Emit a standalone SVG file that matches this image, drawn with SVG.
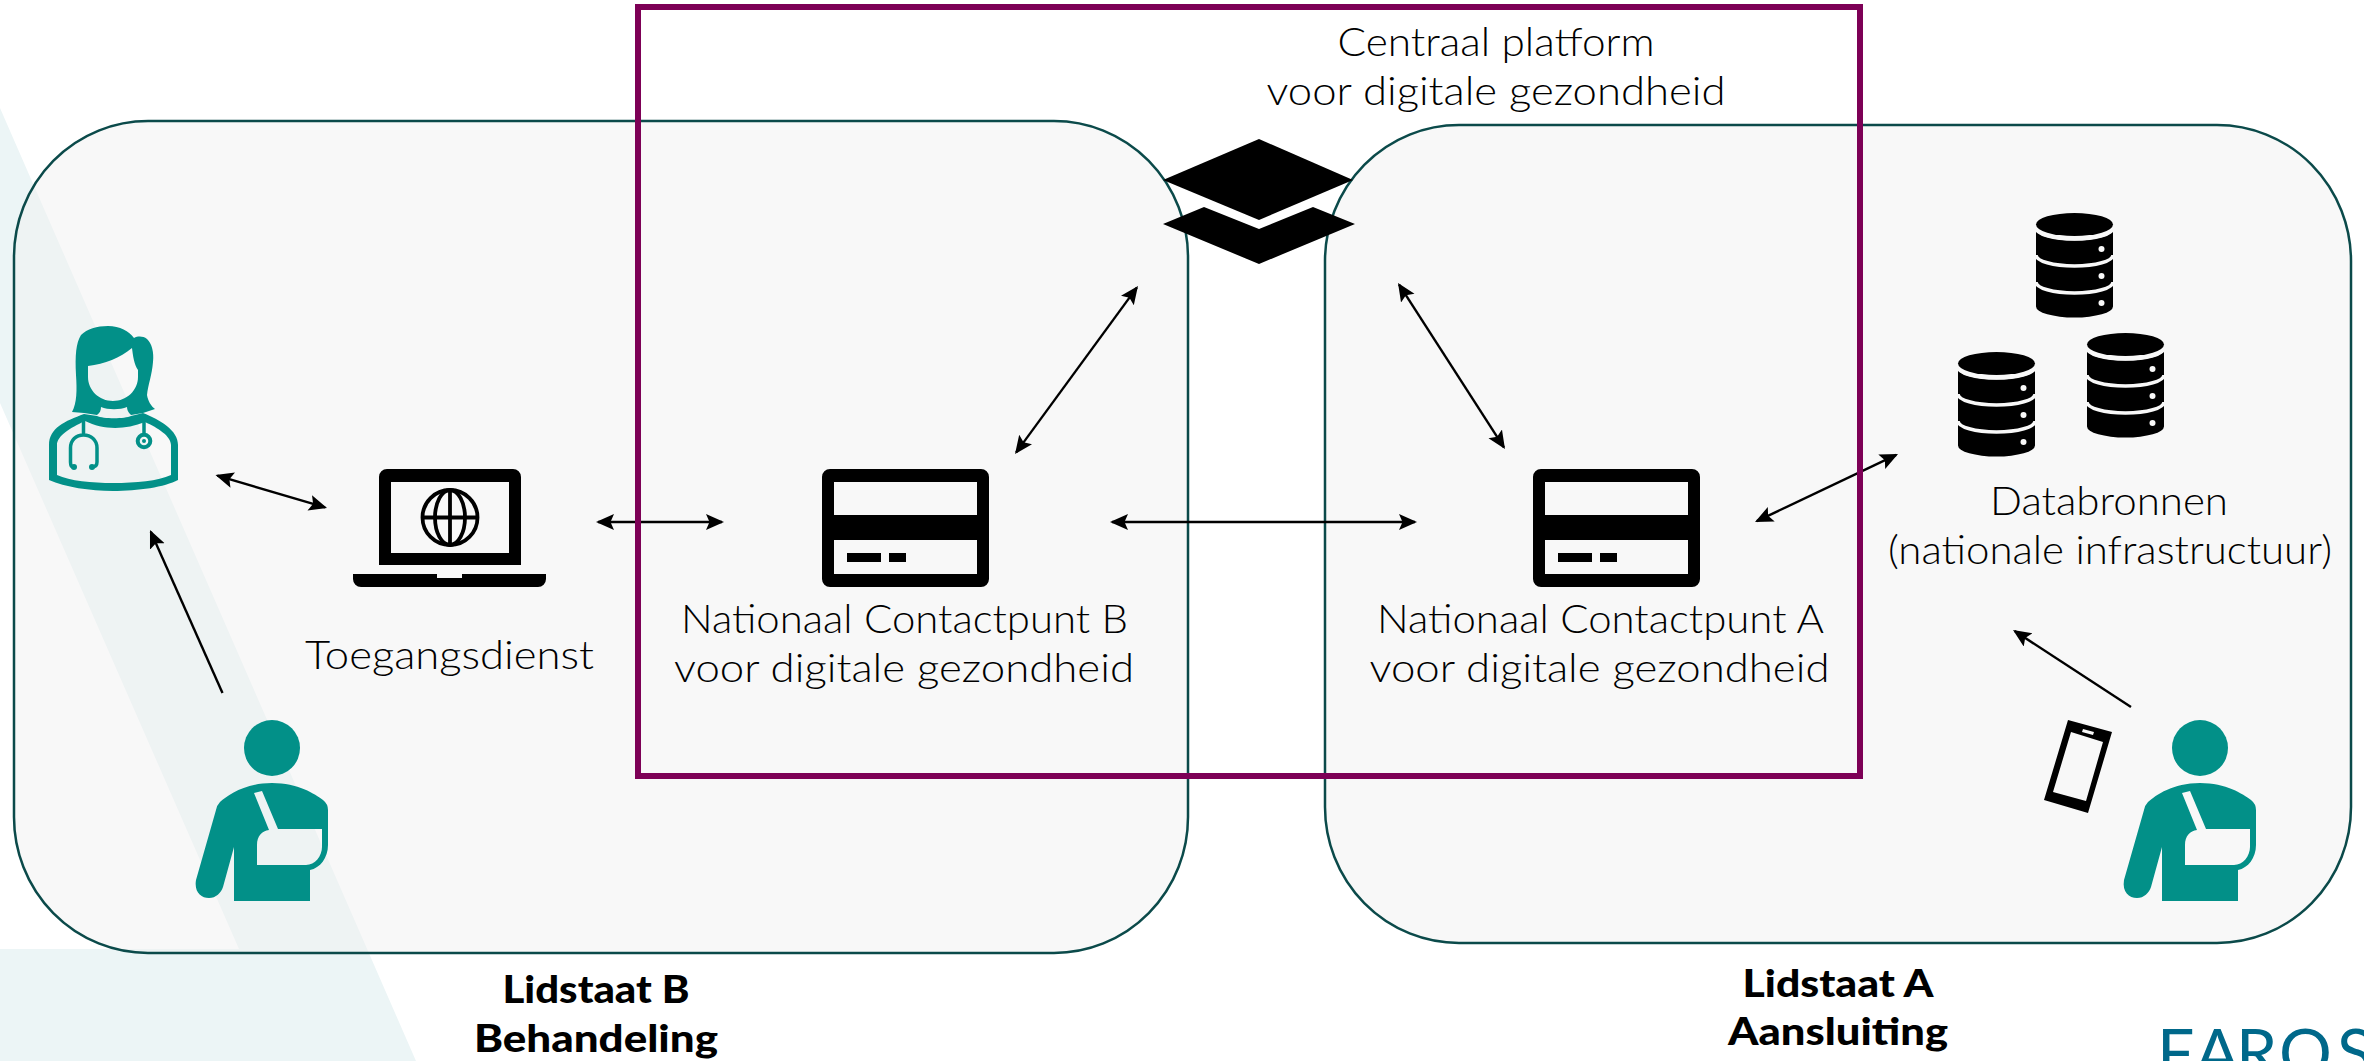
<svg xmlns="http://www.w3.org/2000/svg" width="2364" height="1061" viewBox="0 0 2364 1061">
<style>
.t{font-family:"Lato","Open Sans","Liberation Sans",sans-serif;font-weight:300;font-size:39px;fill:#000;text-anchor:middle}
.b{font-family:"Lato","Open Sans","Liberation Sans",sans-serif;font-weight:900;font-size:38px;fill:#000;text-anchor:middle}
.box{fill:#f0f0f0;fill-opacity:.47;stroke:none}
.edge{fill:none;stroke:#0b4a4a;stroke-width:2.5}
.teal{fill:#029088}
.k{fill:#000}
.c{fill:none;stroke:#000;stroke-width:2.4;marker-end:url(#ah)}
.cc{fill:none;stroke:#000;stroke-width:2.4;marker-start:url(#ah);marker-end:url(#ah)}
</style>
<defs>
<marker id="ah" markerUnits="userSpaceOnUse" markerWidth="20" markerHeight="18" refX="16" refY="8" orient="auto-start-reverse"><path d="M0 0L18 8L0 16L3.500 8Z" fill="#000"/></marker>
<g id="db">
<ellipse cx="0" cy="0" rx="38.5" ry="11.5" class="k"/>
<path d="M-38.5 5V82A38.5 11 0 0 0 38.5 82V5A38.5 11 0 0 1-38.5 5Z" class="k"/>
<path d="M-38.5 3.5A38.5 11 0 0 0 38.5 3.5M-38.5 30.5A38.5 11 0 0 0 38.5 30.5M-38.5 57.5A38.5 11 0 0 0 38.5 57.5" fill="none" stroke="#f8f8f8" stroke-width="3.5"/>
<circle cx="27" cy="24.5" r="3" fill="#f8f8f8"/><circle cx="27" cy="51.5" r="3" fill="#f8f8f8"/><circle cx="27" cy="78.5" r="3" fill="#f8f8f8"/>
</g>
<g id="card">
<path fill-rule="evenodd" d="M830 469H981A8 8 0 0 1 989 477V579A8 8 0 0 1 981 587H830A8 8 0 0 1 822 579V477A8 8 0 0 1 830 469ZM834 482V515H977V482ZM834 540V574H977V540Z" class="k"/>
<rect x="847" y="553" width="34" height="9" class="k"/><rect x="889" y="553" width="17" height="9" class="k"/>
</g>
<g id="patient">
<circle cx="272" cy="748" r="28" class="teal"/>
<path fill-rule="evenodd" class="teal" d="M272 783C245 783 228 795 220 802Q217 805 216 810L196 880C194 892 201 898 209 898C216 898 221 893 223 887L234 847V901H310V870C320 868 328 858 328 845V810Q328 804 323 800C315 794 298 783 272 783ZM254 793L262 791L278 829H322V847C322 856 315 865 306 865H257V845C257 836 262 831 269 830Z"/>
</g>
</defs>

<g id="background"><path d="M0 108L416 1061H0V949H239L0 403Z" fill="#ecf5f6"/></g>

<g id="lidstaat-b">
<rect class="box" x="14" y="121" width="1174" height="832" rx="134" ry="136"/>
<rect class="edge" x="14" y="121" width="1174" height="832" rx="134" ry="136"/>
<text class="b" x="596" y="1003" textLength="187" lengthAdjust="spacingAndGlyphs">Lidstaat B</text>
<text class="b" x="596" y="1052" textLength="244" lengthAdjust="spacingAndGlyphs">Behandeling</text>
</g>
<g id="lidstaat-a">
<rect class="box" x="1325" y="125" width="1026" height="818" rx="134" ry="136"/>
<rect class="edge" x="1325" y="125" width="1026" height="818" rx="134" ry="136"/>
<text class="b" x="1838" y="997" textLength="191" lengthAdjust="spacingAndGlyphs">Lidstaat A</text>
<text class="b" x="1838" y="1045" textLength="220" lengthAdjust="spacingAndGlyphs">Aansluiting</text>
</g>

<g id="connectors">
<path class="cc" d="M217.400 475.600L325.100 507.400"/>
<path class="c" d="M222.500 693L150.800 531.800"/>
<path class="cc" d="M598 522H722"/>
<path class="cc" d="M1112 522H1415"/>
<path class="cc" d="M1016.200 452.400L1136.800 287.600"/>
<path class="cc" d="M1503.900 447.300L1399.100 284.700"/>
<path class="cc" d="M1756.800 521.100L1896.200 454.900"/>
<path class="c" d="M2131 707L2014.700 631.100"/>
</g>

<g id="platform">
<path class="k" d="M1259 139L1353 180L1259 220L1163 180Z"/>
<path class="k" d="M1204 207L1259 229L1313 207L1355 224L1259 264L1163 224Z"/>
<text class="t" x="1496" y="56" textLength="317" lengthAdjust="spacingAndGlyphs">Centraal platform</text>
<text class="t" x="1496" y="105" textLength="459" lengthAdjust="spacingAndGlyphs">voor digitale gezondheid</text>
</g>

<g id="arts">
<path fill-rule="evenodd" class="teal" d="M72 412C77 403 77 390 76 375C75 355 76 343 81 335C87 329 97 326 108 326C120 326 129 331 134 338C138 336 143 336 147 339C152 344 154 352 153 362C152 375 148 385 147 395C148 401 151 406 155 409L143 413L131 415C128 412 127 410 127 407C120 410 108 410 101 407C101 410 100 413 97 415L84 413ZM88 366V377C88 390 99 401 113 401C127 401 138 390 138 377V370C134 364 133 356 132 348C120 358 105 364 88 366Z"/>
<path fill-rule="evenodd" class="teal" d="M84 414C65 421 49 428 49 445V480C65 487 90 491 113 491C138 491 165 487 178 480V445C178 430 160 420 143 413L131 416C125 419 103 419 97 416ZM85 421C70 428 57 436 57 445V475C70 481 92 483 113 483C136 483 158 481 171 475V445C171 436 158 428 145 422C125 430 103 430 85 421Z"/>
<path d="M83.500 421V435M73 467Q70.500 467 70.500 462V448C70.500 440 76 435 83.500 435C91 435 97 440 97 448V462Q97 467 92 467" fill="none" stroke="#029088" stroke-width="3.500"/>
<circle cx="74" cy="467" r="3" class="teal"/><circle cx="92" cy="467" r="3" class="teal"/>
<path d="M144 421V433" stroke="#029088" stroke-width="3.500"/>
<circle cx="144" cy="441" r="6.300" fill="none" stroke="#029088" stroke-width="4"/>
<circle cx="144" cy="441" r="2" class="teal"/>
</g>

<g id="patient-b"><use href="#patient"/></g>

<g id="toegangsdienst">
<path fill-rule="evenodd" class="k" d="M387 469H513A8 8 0 0 1 521 477V565H379V477A8 8 0 0 1 387 469ZM391 482V553H509V482Z"/>
<path class="k" d="M353 574H437V578H462V574H546V579A8 8 0 0 1 538 587H361A8 8 0 0 1 353 579Z"/>
<g fill="none" stroke="#000" stroke-width="3.800"><circle cx="450" cy="517.500" r="27.500"/><ellipse cx="450" cy="517.500" rx="15" ry="27.500"/><path d="M450 490V545M423 517.500H477"/></g>
<text class="t" x="449.500" y="669" textLength="289" lengthAdjust="spacingAndGlyphs">Toegangsdienst</text>
</g>

<g id="ncp-b">
<use href="#card"/>
<text class="t" x="904.500" y="633" textLength="447" lengthAdjust="spacingAndGlyphs">Nationaal Contactpunt B</text>
<text class="t" x="904" y="682" textLength="460" lengthAdjust="spacingAndGlyphs">voor digitale gezondheid</text>
</g>

<g id="ncp-a">
<use href="#card" x="711"/>
<text class="t" x="1600.500" y="633" textLength="447" lengthAdjust="spacingAndGlyphs">Nationaal Contactpunt A</text>
<text class="t" x="1599.500" y="682" textLength="460" lengthAdjust="spacingAndGlyphs">voor digitale gezondheid</text>
</g>

<g id="databronnen">
<use href="#db" x="2074.500" y="224.500"/>
<use href="#db" x="1996.500" y="363.500"/>
<use href="#db" x="2125.500" y="344.500"/>
<text class="t" x="2109" y="515" textLength="238" lengthAdjust="spacingAndGlyphs">Databronnen</text>
<text class="t" x="2110" y="564" textLength="444" lengthAdjust="spacingAndGlyphs">(nationale infrastructuur)</text>
</g>

<g id="telefoon">
<path fill-rule="evenodd" class="k" d="M2068 720L2112 732L2088 813L2044 800ZM2071 732L2053 792L2086 801L2103 742ZM2083 729L2082 732L2093 735L2094 732Z"/>
</g>

<g id="patient-a"><use href="#patient" x="1928"/></g>

<g id="centraal-platform-kader"><rect x="638" y="7" width="1222" height="769" fill="none" stroke="#7d0056" stroke-width="6"/></g>

<g id="logo"><text x="2157 2195 2236 2279 2337" y="1076" style="font-family:'Lato','Open Sans',sans-serif;font-weight:400;font-size:66px;fill:#00688a">FAROS</text></g>
</svg>
